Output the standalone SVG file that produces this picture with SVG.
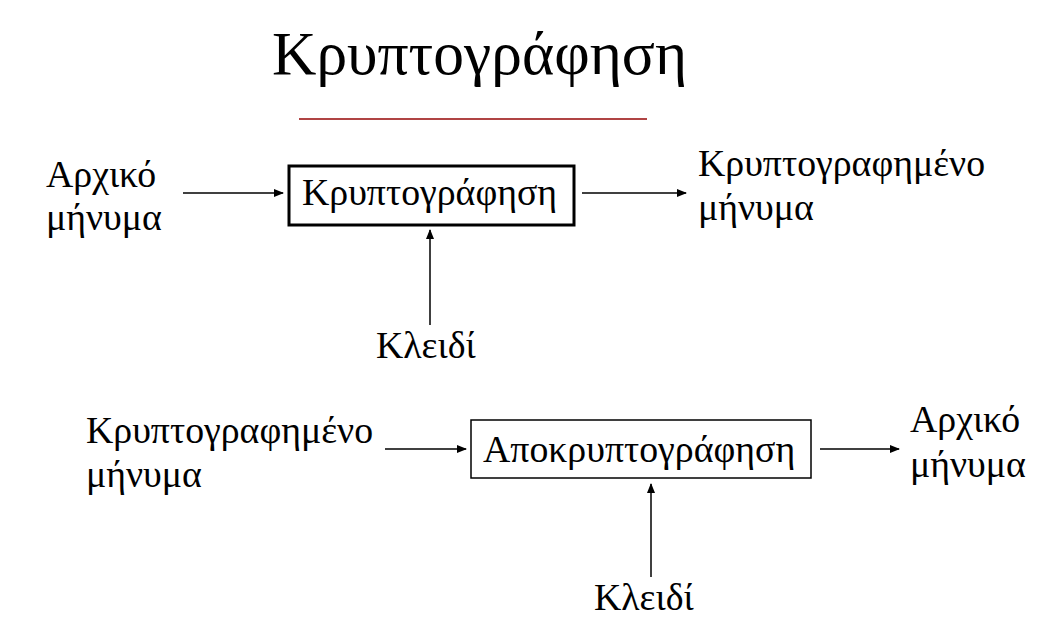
<svg xmlns="http://www.w3.org/2000/svg" width="1038" height="624" viewBox="0 0 1038 624">
<style>
text{font-family:"Liberation Serif","Times New Roman","DejaVu Serif",serif;fill:#000;font-size:37.8px}
.title{font-size:61.5px}
.c{stroke:#000;stroke-width:1.5;fill:none}
</style>
<defs>
<marker id="ah" markerWidth="10" markerHeight="8" refX="9" refY="4" orient="auto" markerUnits="userSpaceOnUse">
<path d="M0,0 L10,4 L0,8 Z" fill="#000"/>
</marker>
</defs>
<rect width="1038" height="624" fill="#fff"/>
<g id="title">
<text class="title" x="272" y="74">Κρυπτογράφηση</text>
<line x1="299" y1="119" x2="647" y2="119" stroke="#b04444" stroke-width="2"/>
</g>
<g id="in1"><text x="46" y="187">Αρχικό</text><text x="46" y="230">μήνυμα</text></g>
<g id="enc"><rect x="289" y="166" width="285" height="59" fill="none" stroke="#000" stroke-width="3"/><text x="302" y="205">Κρυπτογράφηση</text></g>
<g id="out1"><text x="698" y="176">Κρυπτογραφημένο</text><text x="698" y="220">μήνυμα</text></g>
<g id="key1"><text x="376" y="358">Κλειδί</text></g>
<g id="in2"><text x="86" y="443">Κρυπτογραφημένο</text><text x="86" y="487">μήνυμα</text></g>
<g id="dec"><rect x="471" y="420" width="340" height="58" fill="none" stroke="#000" stroke-width="1.5"/><text x="483" y="462">Αποκρυπτογράφηση</text></g>
<g id="out2"><text x="910" y="432">Αρχικό</text><text x="910" y="477">μήνυμα</text></g>
<g id="key2"><text x="594" y="610">Κλειδί</text></g>
<g id="connectors">
<line class="c" x1="183" y1="193" x2="283" y2="193" marker-end="url(#ah)"/>
<line class="c" x1="582" y1="193" x2="686" y2="193" marker-end="url(#ah)"/>
<line class="c" x1="430" y1="325" x2="430" y2="230" marker-end="url(#ah)"/>
<line class="c" x1="385" y1="449" x2="466" y2="449" marker-end="url(#ah)"/>
<line class="c" x1="820" y1="449" x2="899" y2="449" marker-end="url(#ah)"/>
<line class="c" x1="651" y1="577" x2="651" y2="484" marker-end="url(#ah)"/>
</g>
</svg>
